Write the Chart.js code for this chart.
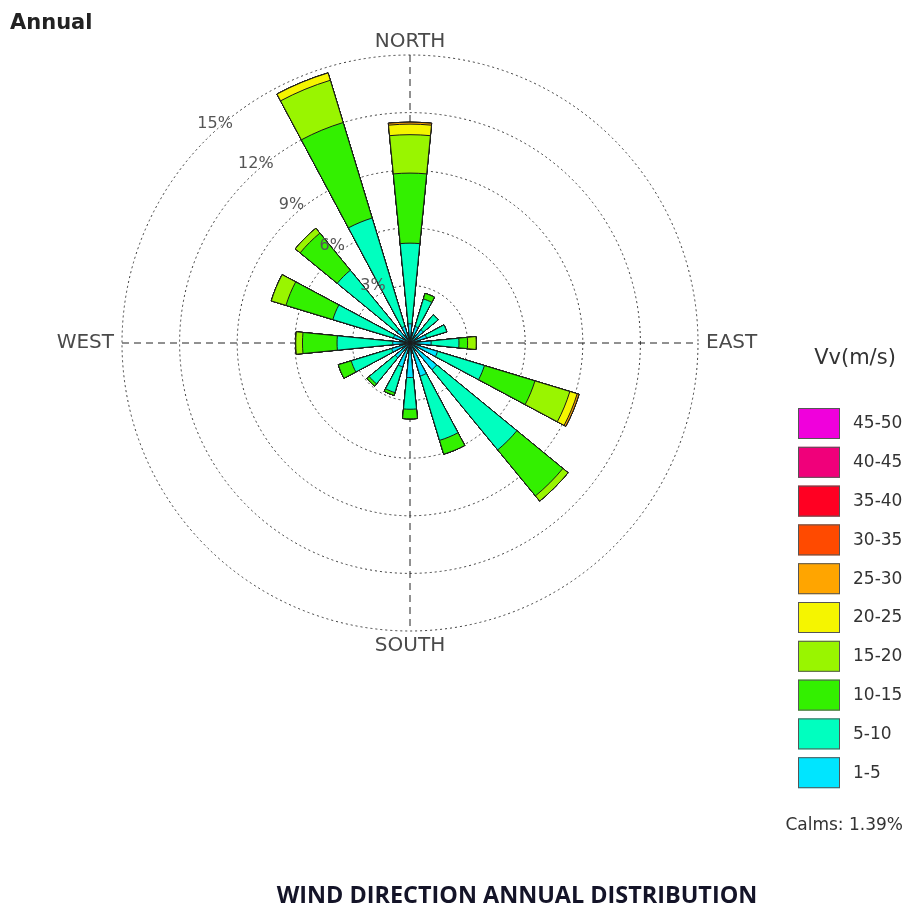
<!DOCTYPE html>
<html>
<head>
<meta charset="utf-8">
<title>Wind direction annual distribution</title>
<script src="https://cdn.jsdelivr.net/npm/chart.js@4.4.1/dist/chart.umd.min.js"></script>
<style>
  html, body { margin: 0; padding: 0; background: #fff; }
  #wrap { position: relative; width: 909px; height: 910px; }
</style>
</head>
<body>
<div id="wrap"><canvas id="windRose"></canvas></div>
<script>
// 16 compass sectors, clockwise from north
const directions = ['N', 'NNE', 'NE', 'ENE', 'E', 'ESE', 'SE', 'SSE', 'S', 'SSW', 'SW', 'WSW', 'W', 'WNW', 'NW', 'NNW'];
const speedClasses = ['1-5', '5-10', '10-15', '15-20', '20-25', '25-30', '30-35', '35-40', '40-45', '45-50'];
const classColors = ['#00e5ff', '#00ffbf', '#33f000', '#99f500', '#f5f500', '#ffa500', '#ff4a00', '#ff0022', '#f0007a', '#f000dc'];

// frequency (%) of each speed class per direction
const freq1_5   = [1.0, 0.9, 0.9, 0.9, 1.1, 1.5, 1.8, 1.8, 1.8, 1.3, 1.0, 1.0, 0.9, 0.9, 0.9, 0.9];
const freq5_10  = [4.2, 1.5, 1.0, 1.1, 1.45, 2.55, 5.4, 3.5, 1.65, 1.4, 1.75, 2.2, 2.9, 3.3, 4.0, 5.9];
const freq10_15 = [3.65, 0.3, 0, 0, 0.45, 2.75, 3.1, 0.75, 0.5, 0.15, 0.15, 0.7, 1.8, 2.55, 2.5, 5.2];
const freq15_20 = [2.0, 0, 0, 0, 0.45, 1.9, 0.35, 0, 0, 0, 0, 0, 0.35, 0.8, 0.33, 2.3];
const freq20_25 = [0.55, 0, 0, 0, 0, 0.4, 0, 0, 0, 0, 0, 0, 0, 0, 0, 0.4];
const freq25_30 = [0.1, 0, 0, 0, 0, 0.1, 0, 0, 0, 0, 0, 0, 0, 0, 0, 0];
const freq30_35 = [0, 0, 0, 0, 0, 0, 0, 0, 0, 0, 0, 0, 0, 0, 0, 0];
const freq35_40 = [0, 0, 0, 0, 0, 0, 0, 0, 0, 0, 0, 0, 0, 0, 0, 0];
const freq40_45 = [0, 0, 0, 0, 0, 0, 0, 0, 0, 0, 0, 0, 0, 0, 0, 0];
const freq45_50 = [0, 0, 0, 0, 0, 0, 0, 0, 0, 0, 0, 0, 0, 0, 0, 0];

const calmsPct = 1.39;
const percentTicks = [3, 6, 9, 12, 15];
const cardinalNames = ['NORTH', 'EAST', 'SOUTH', 'WEST'];

const classSeries = [freq1_5, freq5_10, freq10_15, freq15_20, freq20_25,
                     freq25_30, freq30_35, freq35_40, freq40_45, freq45_50];

// each sector gets an empty slot after it so the wedges come out narrow;
// classes are stacked by drawing cumulative wedges, the smallest on top
const slotLabels = directions.flatMap(d => [d, '']);
let running = directions.map(() => 0);
const datasets = classSeries.map((series, k) => {
  running = running.map((v, i) => v + series[i]);
  return {
    label: speedClasses[k],
    data: running.flatMap(v => [v, 0]),
    backgroundColor: classColors[k],
    borderColor: '#1a1a1a',
    borderWidth: 1
  };
});

const FONT = '"DejaVu Sans", Verdana, sans-serif';

const roseDecor = {
  id: 'roseDecor',
  beforeDatasetsDraw(chart) {
    const s = chart.scales.r;
    const ctx = chart.ctx;
    const R = s.drawingArea;
    ctx.save();
    ctx.strokeStyle = '#222';
    ctx.lineWidth = 1;
    ctx.setLineDash([7, 5]);
    ctx.beginPath();
    ctx.moveTo(s.xCenter, s.yCenter - R);
    ctx.lineTo(s.xCenter, s.yCenter + R);
    ctx.moveTo(s.xCenter - R, s.yCenter);
    ctx.lineTo(s.xCenter + R, s.yCenter);
    ctx.stroke();
    ctx.restore();
  },
  afterDatasetsDraw(chart) {
    // percent labels sit just above where each ring crosses the NW diagonal
    const s = chart.scales.r;
    const ctx = chart.ctx;
    const k = Math.SQRT1_2;
    ctx.save();
    ctx.font = '16px ' + FONT;
    ctx.fillStyle = '#555';
    ctx.textAlign = 'left';
    ctx.textBaseline = 'middle';
    percentTicks.forEach(p => {
      const d = s.getDistanceFromCenterForValue(p);
      ctx.fillText(p + '%', s.xCenter - d * k - 9, s.yCenter - d * k - 16);
    });
    ctx.restore();
  },
  afterDraw(chart) {
    const s = chart.scales.r;
    const ctx = chart.ctx;
    const R = s.drawingArea;
    ctx.save();

    // compass labels
    ctx.font = '20px ' + FONT;
    ctx.fillStyle = '#4a4a4a';
    ctx.textAlign = 'center';
    ctx.textBaseline = 'bottom';
    ctx.fillText(cardinalNames[0], s.xCenter, s.yCenter - R - 3);
    ctx.textBaseline = 'top';
    ctx.fillText(cardinalNames[2], s.xCenter, s.yCenter + R + 5);
    ctx.textBaseline = 'middle';
    ctx.textAlign = 'left';
    ctx.fillText(cardinalNames[1], s.xCenter + R + 8, s.yCenter);
    ctx.textAlign = 'right';
    ctx.fillText(cardinalNames[3], s.xCenter - R - 8, s.yCenter);

    // legend
    ctx.fillStyle = '#333';
    ctx.textAlign = 'center';
    ctx.textBaseline = 'alphabetic';
    ctx.font = '21px ' + FONT;
    ctx.fillText('Vv(m/s)', 855, 364);
    ctx.font = '17px ' + FONT;
    ctx.textAlign = 'left';
    ctx.textBaseline = 'middle';
    for (let k = speedClasses.length - 1, row = 0; k >= 0; k--, row++) {
      const y = 408 + row * 38.8;
      ctx.fillStyle = classColors[k];
      ctx.fillRect(798, y, 42, 31);
      ctx.strokeStyle = '#555';
      ctx.lineWidth = 1;
      ctx.strokeRect(798.5, y + 0.5, 41, 30);
      ctx.fillStyle = '#333';
      ctx.fillText(speedClasses[k], 853, y + 16);
    }
    ctx.textAlign = 'right';
    ctx.font = '17px ' + FONT;
    ctx.fillText('Calms: ' + calmsPct.toFixed(2) + '%', 903, 826);

    // headings
    ctx.textAlign = 'left';
    ctx.textBaseline = 'alphabetic';
    ctx.fillStyle = '#222';
    ctx.font = 'bold 21px ' + FONT;
    ctx.fillText('Annual', 10, 29);

    const caption = 'WIND DIRECTION ANNUAL DISTRIBUTION';
    ctx.font = 'bold 20px "Open Sans", "Liberation Sans", sans-serif';
    const size = 20 * 480 / ctx.measureText(caption).width;
    ctx.font = 'bold ' + size.toFixed(1) + 'px "Open Sans", "Liberation Sans", sans-serif';
    ctx.fillStyle = '#141428';
    ctx.textAlign = 'center';
    ctx.fillText(caption, 517, 903);
    ctx.restore();
  }
};

new Chart(document.getElementById('windRose'), {
  type: 'polarArea',
  data: { labels: slotLabels, datasets: datasets },
  options: {
    responsive: true,
    maintainAspectRatio: false,
    animation: false,
    events: [],
    layout: { padding: { left: 122, top: 55, right: 211, bottom: 279 } },
    plugins: {
      legend: { display: false },
      tooltip: { enabled: false }
    },
    scales: {
      r: {
        min: 0,
        max: 15,
        startAngle: -5.625,
        ticks: { display: false, stepSize: 3 },
        grid: { circular: true, color: '#3a3a3a', lineWidth: 1 },
        border: { dash: [2, 3] },
        angleLines: { display: false },
        pointLabels: { display: false }
      }
    }
  },
  plugins: [roseDecor]
});
</script>
</body>
</html>
